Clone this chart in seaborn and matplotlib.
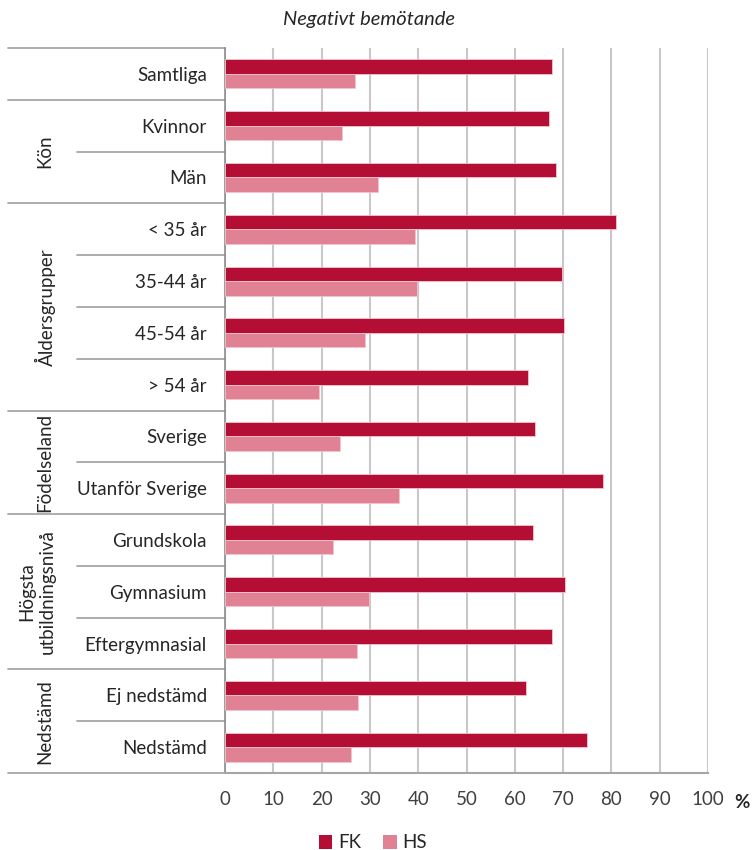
import matplotlib
matplotlib.use("Agg")
import matplotlib.pyplot as plt
import matplotlib.transforms as mtransforms
from matplotlib.patches import Patch
import seaborn as sns
import pandas as pd

# Survey categories, top to bottom
categories = ["Samtliga", "Kvinnor", "Män", "< 35 år", "35-44 år", "45-54 år",
              "> 54 år", "Sverige", "Utanför Sverige", "Grundskola", "Gymnasium",
              "Eftergymnasial", "Ej nedstämd", "Nedstämd"]
# Share reporting negative treatment (%)
fk_values = [67.6, 67.0, 68.5, 81.0, 69.8, 70.1, 62.8, 64.1, 78.3, 63.7, 70.3, 67.6, 62.3, 74.9]
hs_values = [26.9, 24.2, 31.6, 39.4, 39.8, 29.0, 19.5, 23.9, 36.0, 22.3, 29.9, 27.3, 27.5, 26.1]
series = ["FK", "HS"]
x_ticks = [0, 10, 20, 30, 40, 50, 60, 70, 80, 90, 100]

# Group headings: (label, first index, last index)
groups = [("Kön", 1, 2), ("Åldersgrupper", 3, 6), ("Födelseland", 7, 8),
          ("Högsta\nutbildningsnivå", 9, 11), ("Nedstämd", 12, 13)]

colors = {"FK": "#B50E35", "HS": "#E08294"}
text_col = "#262626"
line_col = "#a6a6a6"
fs = 13.5

df = pd.DataFrame({
    "Kategori": categories * 2,
    "Andel": fk_values + hs_values,
    "Grupp": [series[0]] * len(categories) + [series[1]] * len(categories),
})

sns.set_style("white")
plt.rcParams["font.family"] = ["Lato", "DejaVu Sans"]

W, H = 752, 850
fig = plt.figure(figsize=(W / 100, H / 100), dpi=100)
ax = fig.add_axes([225 / W, 1 - 773 / H, (708 - 225) / W, (773 - 48) / H])

sns.barplot(data=df, y="Kategori", x="Andel", hue="Grupp", order=categories,
            hue_order=series, palette=colors, saturation=1, width=0.56, orient="h",
            edgecolor="#f2c4cd", linewidth=0.6, ax=ax, legend=False, zorder=3)

n = len(categories)
ax.set_xlim(0, 100)
ax.set_ylim(n - 0.5, -0.5)
ax.set_xlabel("")
ax.set_ylabel("")
ax.set_xticks(x_ticks)
ax.set_xticklabels([str(t) for t in x_ticks], fontsize=fs, color="#404040")
ax.tick_params(axis="x", length=4, width=1.2, color=line_col, pad=9, direction="out")
ax.set_yticks(range(n))
ax.set_yticklabels(categories, fontsize=fs, color=text_col)
ax.tick_params(axis="y", length=0, pad=13)
ax.set_yticks([i + 0.5 for i in range(-1, n)], minor=True)
ax.tick_params(axis="y", which="minor", length=4, width=1.2, color="#8c8c8c")

ax.grid(axis="x", color="#c8c8c8", linewidth=1.5, zorder=0)
ax.set_axisbelow(True)
for s in ["top", "right"]:
    ax.spines[s].set_visible(False)
ax.spines["left"].set_color("#8c8c8c")
ax.spines["left"].set_linewidth(1.2)
ax.spines["bottom"].set_color(line_col)
ax.spines["bottom"].set_linewidth(1.5)

# Left-hand table lines separating categories and groups
trans = mtransforms.blended_transform_factory(fig.transFigure, ax.transData)
group_bounds = {-0.5, 0.5, 2.5, 6.5, 8.5, 11.5, 13.5}
for b in [i + 0.5 for i in range(-1, n)]:
    x0 = 8 / W if b in group_bounds else 77 / W
    ax.plot([x0, 225 / W], [b, b], color=line_col, linewidth=1.3,
            transform=trans, clip_on=False)

for label, i0, i1 in groups:
    ax.text(45 / W if "\n" not in label else 37 / W, (i0 + i1) / 2, label,
            rotation=90, ha="center", va="center", fontsize=fs, color=text_col,
            transform=trans, linespacing=1.2)

fig.text(369 / W, 1 - 19 / H, "Negativt bemötande", ha="center", va="center",
         fontsize=14.5, style="italic", color=text_col)
fig.text(742 / W, 1 - 803 / H, "%", ha="center", va="center",
         fontsize=13.5, fontweight="bold", color=text_col)

handles = [Patch(facecolor=colors[s], edgecolor="none", label=s) for s in series]
fig.legend(handles=handles, loc="center", bbox_to_anchor=(373 / W, 1 - 843 / H),
           ncol=2, frameon=False, fontsize=fs, handlelength=0.7, handleheight=0.7,
           handletextpad=0.3, columnspacing=1.2, labelcolor=text_col)

fig.savefig("out.png", dpi=100)
